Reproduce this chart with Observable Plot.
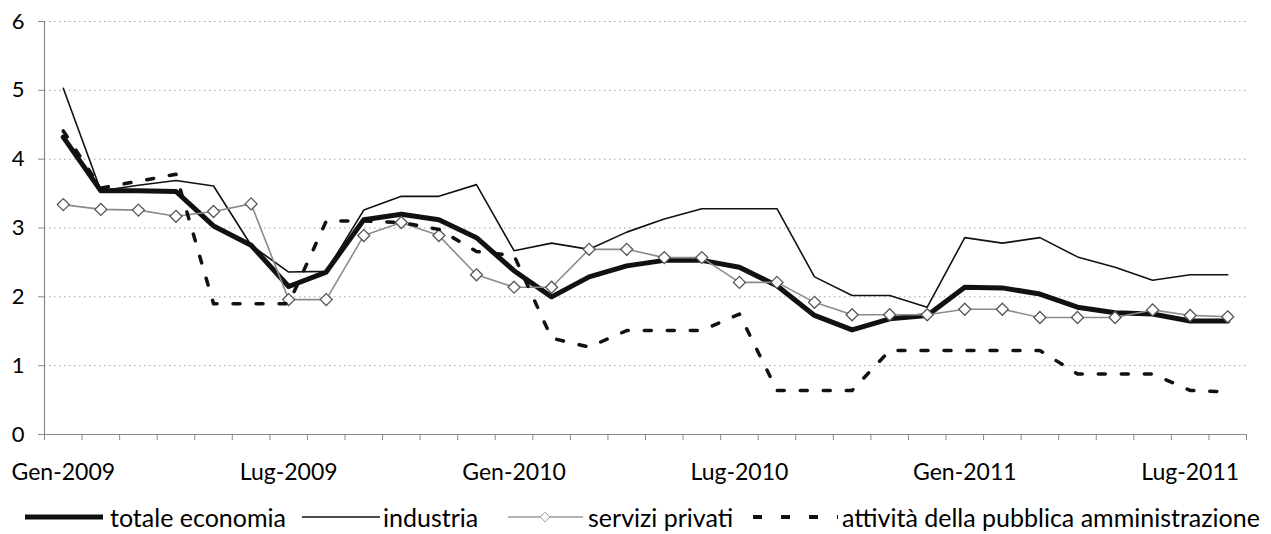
<!DOCTYPE html>
<html>
<head>
<meta charset="utf-8">
<script src="https://cdn.jsdelivr.net/npm/d3@7"></script>
<script src="https://cdn.jsdelivr.net/npm/@observablehq/plot@0.6"></script>
<style>
  html, body { margin: 0; padding: 0; background: #fff; }
  body { width: 1271px; height: 534px; overflow: hidden; font-family: Lato, "Open Sans", sans-serif; }
  #chart svg { display: block; }
  #legend { position: relative; height: 34px; font-size: 25px; color: #000; white-space: nowrap; }
  #legend .item { position: absolute; top: 0; height: 34px; display: flex; align-items: center; }
  #legend svg { display: block; }
</style>
</head>
<body>
<div id="chart"></div>
<div id="legend"></div>
<script>
// Categories (monthly)
const months = [
  "Gen-2009","Feb-2009","Mar-2009","Apr-2009","Mag-2009","Giu-2009","Lug-2009","Ago-2009","Set-2009","Ott-2009","Nov-2009","Dic-2009",
  "Gen-2010","Feb-2010","Mar-2010","Apr-2010","Mag-2010","Giu-2010","Lug-2010","Ago-2010","Set-2010","Ott-2010","Nov-2010","Dic-2010",
  "Gen-2011","Feb-2011","Mar-2011","Apr-2011","Mag-2011","Giu-2011","Lug-2011","Ago-2011"
];
const tickLabels = ["Gen-2009","Lug-2009","Gen-2010","Lug-2010","Gen-2011","Lug-2011"];
const yTicks = [0, 1, 2, 3, 4, 5, 6];
const gridTicks = [1, 2, 3, 4, 5, 6];

const seriesNames = ["totale economia", "industria", "servizi privati", "attività della pubblica amministrazione"];

const totaleEconomia = [4.32,3.54,3.54,3.53,3.03,2.75,2.15,2.36,3.12,3.20,3.12,2.86,
                        2.38,2.00,2.29,2.45,2.53,2.53,2.43,2.16,1.73,1.52,1.68,1.73,
                        2.14,2.13,2.04,1.85,1.77,1.75,1.65,1.65];
const industria = [5.03,3.54,3.62,3.69,3.61,2.75,2.36,2.37,3.26,3.46,3.46,3.63,
                   2.67,2.78,2.69,2.94,3.13,3.28,3.28,3.28,2.29,2.02,2.02,1.85,
                   2.86,2.78,2.86,2.58,2.43,2.24,2.32,2.32];
const serviziPrivati = [3.34,3.27,3.26,3.17,3.24,3.35,1.96,1.96,2.89,3.08,2.89,2.32,
                        2.14,2.14,2.69,2.69,2.57,2.57,2.21,2.21,1.92,1.74,1.74,1.74,
                        1.82,1.82,1.70,1.70,1.70,1.81,1.73,1.71];
const pubblicaAmm = [4.41,3.58,3.68,3.78,1.90,1.90,1.90,3.10,3.10,3.08,2.98,2.66,
                     2.60,1.40,1.27,1.51,1.51,1.51,1.75,0.64,0.64,0.64,1.22,1.22,
                     1.22,1.22,1.22,0.88,0.88,0.88,0.64,0.62];

const seriesValues = [totaleEconomia, industria, serviziPrivati, pubblicaAmm];
const rows = seriesNames.flatMap((name, s) =>
  seriesValues[s].map((v, i) => ({series: name, i, month: months[i], value: v}))
);
const bySeries = name => rows.filter(d => d.series === name);

const boundaries = d3.range(months.length + 1).map(i => i - 0.5);
const labelIdx = tickLabels.map(l => months.indexOf(l));

const axisColor = "#8a8a8a";
const fontFamily = "Lato, 'Open Sans', sans-serif";

const chart = Plot.plot({
  width: 1271,
  height: 500,
  marginLeft: 44,
  marginRight: 25,
  marginTop: 21,
  marginBottom: 66,
  style: {fontFamily, background: "#fff", color: "#000"},
  x: {type: "linear", domain: [-0.5, months.length - 0.5]},
  y: {domain: [0, 6]},
  marks: [
    Plot.gridY(gridTicks, {stroke: "#777", strokeOpacity: 0.7, strokeDasharray: "1.5,3.5", strokeWidth: 1}),
    Plot.ruleY([0], {stroke: axisColor, strokeWidth: 1.2}),
    Plot.ruleX([-0.5], {stroke: axisColor, strokeWidth: 1.2}),
    Plot.axisY({ticks: yTicks, tickSize: 6, tickPadding: 14, fontSize: 22, stroke: axisColor, tickFormat: d => String(d), label: null}),
    Plot.axisX({ticks: boundaries, tickSize: 6, tickFormat: () => "", stroke: axisColor, label: null}),
    Plot.axisX({ticks: labelIdx, tickSize: 0, tickPadding: 29, fontSize: 23, tickFormat: i => months[i], label: null}),
    Plot.line(bySeries(seriesNames[0]), {x: "i", y: "value", stroke: "#111", strokeWidth: 5}),
    Plot.line(bySeries(seriesNames[1]), {x: "i", y: "value", stroke: "#111", strokeWidth: 1.6}),
    Plot.line(bySeries(seriesNames[2]), {x: "i", y: "value", stroke: "#8c8c8c", strokeWidth: 1.6}),
    Plot.dot(bySeries(seriesNames[2]), {x: "i", y: "value", symbol: "diamond2", r: 5.4, fill: "#fff", stroke: "#555", strokeWidth: 1.3}),
    Plot.line(bySeries(seriesNames[3]), {x: "i", y: "value", stroke: "#111", strokeWidth: 3.5, strokeDasharray: "7,16"})
  ]
});
document.getElementById("chart").appendChild(chart);

// Legend
const legendSpecs = [
  {name: seriesNames[0], left: 25, w: 78, gap: 7, draw: g => g.append("line").attr("x1",0).attr("x2",78).attr("y1",10).attr("y2",10).attr("stroke","#111").attr("stroke-width",5)},
  {name: seriesNames[1], left: 302, w: 78, gap: 3, draw: g => g.append("line").attr("x1",0).attr("x2",78).attr("y1",10).attr("y2",10).attr("stroke","#111").attr("stroke-width",1.6)},
  {name: seriesNames[2], left: 508, w: 75, gap: 5, draw: g => {
      g.append("line").attr("x1",0).attr("x2",75).attr("y1",10).attr("y2",10).attr("stroke","#9a9a9a").attr("stroke-width",1.4);
      g.append("path").attr("d", d3.symbol(d3.symbolDiamond2, 60)()).attr("transform","translate(37,10)").attr("fill","#fff").attr("stroke","#999").attr("stroke-width",1);
    }},
  {name: seriesNames[3], left: 753, w: 85, gap: 4, draw: g => g.append("line").attr("x1",0).attr("x2",85).attr("y1",10).attr("y2",10).attr("stroke","#111").attr("stroke-width",4).attr("stroke-dasharray","9,19")}
];
const legend = d3.select("#legend");
legendSpecs.forEach(spec => {
  const item = legend.append("div").attr("class", "item").style("left", spec.left + "px");
  const svg = item.append("svg").attr("width", spec.w).attr("height", 20).style("margin-right", spec.gap + "px");
  spec.draw(svg);
  item.append("span").text(spec.name);
});
</script>
</body>
</html>
